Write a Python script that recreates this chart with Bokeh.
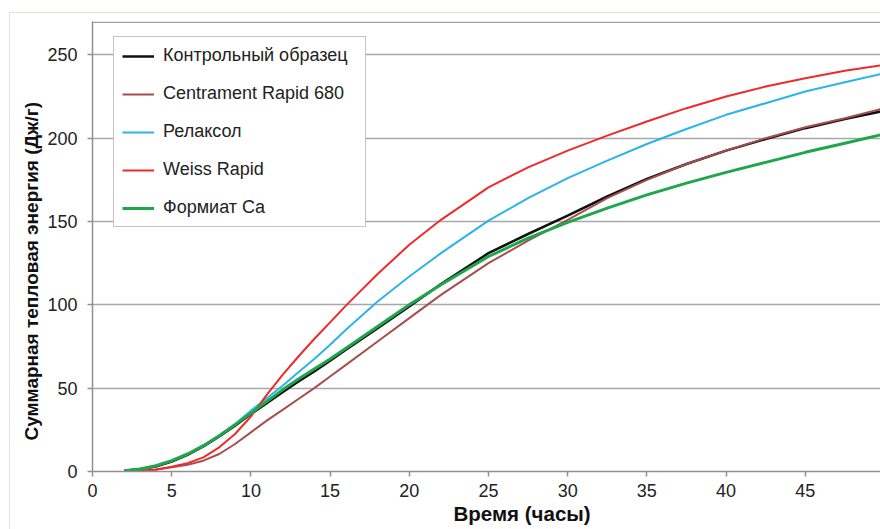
from bokeh.plotting import figure
from bokeh.models import Range1d, Legend, LegendItem, Title, Span, FixedTicker
from bokeh.embed import file_html
from bokeh.resources import INLINE

# ---- data ----
t_early = [2, 3, 4, 5, 6, 7, 8, 9, 10, 11, 12, 13, 14, 15, 16, 18, 20, 22,
           25, 27.5, 30, 32.5, 35, 37.5, 40, 42.5, 45, 47.5, 50]
t_late = [3, 4, 5, 6, 7, 8, 9, 10, 11, 12, 13, 14, 15, 16, 18, 20, 22,
          25, 27.5, 30, 32.5, 35, 37.5, 40, 42.5, 45, 47.5, 50]

control = [0.5, 1.3, 3, 6, 10, 15, 21, 27.5, 34.5, 41, 47.5, 54, 60, 66.5, 73, 86, 99, 112.5,
           131, 142.5, 153.5, 165, 175.5, 184.5, 192.5, 199.5, 206, 211.5, 216.5]
centrament = [0.3, 1.2, 2.5, 4, 6.5, 10.5, 16.5, 23.5, 30.5, 37, 43.5, 50, 57, 64, 78, 92, 106,
              125, 138.5, 151, 164, 175, 184.5, 192.5, 200, 206.5, 212, 218]
relaxol = [0.5, 1.5, 3.3, 6.3, 10.3, 15.3, 21.5, 28.5, 36.5, 44, 51.5, 59.5, 67.5, 76, 85, 102, 117, 131,
           150.5, 164, 176, 186.5, 196.5, 205.5, 214, 221, 228, 233.5, 239]
weiss = [0.3, 1, 2.8, 5, 8.5, 14.5, 22.5, 33, 46, 58, 69, 79.5, 89.5, 99.5, 118.5, 136, 151,
         170.5, 182.5, 192.5, 201.5, 210, 218, 225, 231, 236, 240.5, 244]
formiate = [0.5, 1.5, 3.5, 6.5, 10.5, 15.5, 21.5, 28, 35, 42, 49, 55.5, 61.5, 67.5, 74, 87, 100, 112,
            129, 140, 149.5, 158, 166, 173, 179.5, 185.5, 191.5, 197, 202.5]

names = ["Контрольный образец", "Centrament Rapid 680", "Релаксол", "Weiss Rapid", "Формиат Ca"]
x_ticks = [0, 5, 10, 15, 20, 25, 30, 35, 40, 45, 50]
y_ticks = [0, 50, 100, 150, 200, 250]
x_title = "Время (часы)"
y_title = "Суммарная тепловая энергия (Дж/г)"

FONT = "Liberation Sans"
EDGE = "#e6e1d1"

p = figure(width=880, height=529, output_backend="svg", toolbar_location=None,
           x_range=Range1d(0, 49.75), y_range=Range1d(0, 270),
           min_border_left=92, min_border_right=0, min_border_top=21, min_border_bottom=58)
p.background_fill_color = "white"
p.border_fill_alpha = 0.0
p.outline_line_color = None
# faint outer chart-area edge (left and top), as in the reference
p.styles = {
    "background": (f"linear-gradient({EDGE},{EDGE}) 9px 12px / 1px 530px no-repeat, "
                   f"linear-gradient({EDGE},{EDGE}) 9px 12px / 880px 1px no-repeat, white")
}

# axes
p.xaxis.ticker = FixedTicker(ticks=x_ticks)
p.yaxis.ticker = FixedTicker(ticks=y_ticks)
for ax in (p.xaxis[0], p.yaxis[0]):
    ax.axis_line_color = "#909090"
    ax.axis_line_width = 1.5
    ax.major_tick_line_color = "#909090"
    ax.major_tick_line_width = 1.5
    ax.major_tick_in = 0
    ax.major_tick_out = 5
    ax.minor_tick_line_color = None
    ax.major_label_text_font = FONT
    ax.major_label_text_font_size = "18px"
    ax.major_label_text_color = "#222222"
p.xaxis.major_label_standoff = 7
p.yaxis.major_label_standoff = 10

p.xgrid.grid_line_color = None
p.ygrid.grid_line_color = "#a8a8a8"
p.ygrid.grid_line_width = 1.5

top_line = Span(location=269.6, dimension="width", line_color="#a0a0a0", line_width=1.5)
p.add_layout(top_line)

colors = ["#111111", "#a5504f", "#2ab4ea", "#f02a2a", "#1fa54c"]
widths = [2.5, 2, 2, 2, 3]
xs = [t_early, t_late, t_early, t_late, t_early]
ys = [control, centrament, relaxol, weiss, formiate]

items = []
for name, x, y, c, w in zip(names, xs, ys, colors, widths):
    r = p.line(x, y, line_color=c, line_width=w)
    items.append(LegendItem(label=name, renderers=[r]))

legend = Legend(items=items, location=(21, 244), orientation="vertical",
                padding=8, spacing=17, label_height=20, glyph_height=20, glyph_width=32,
                label_standoff=9, label_width=194, margin=0,
                label_text_font=FONT, label_text_font_size="18px", label_text_color="#222222",
                border_line_color="#8a8a8a", border_line_width=1.5,
                background_fill_color="white", background_fill_alpha=1.0)
p.add_layout(legend)

# axis titles
p.add_layout(Title(text=x_title, align="left", offset=361, standoff=0,
                   text_font=FONT, text_font_size="20.5px", text_font_style="bold",
                   text_color="#111111"), "below")
p.add_layout(Title(text=y_title, align="left", offset=31, standoff=6,
                   text_font=FONT, text_font_size="19px", text_font_style="bold",
                   text_color="#111111"), "left")

open("out.html", "w").write(file_html(p, INLINE))
